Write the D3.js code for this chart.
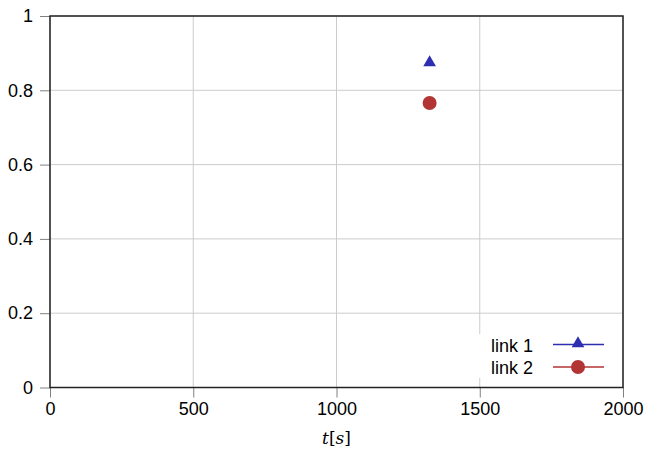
<!DOCTYPE html>
<html>
<head>
<meta charset="utf-8">
<script src="https://cdn.jsdelivr.net/npm/d3@7"></script>
<style>
  body { margin: 0; background: #fff; }
  svg { display: block; }
  text { font-family: "Liberation Sans", Arial, sans-serif; }
</style>
</head>
<body>
<svg id="chart" width="647" height="451"></svg>
<script>
// Series data: time in seconds, value in [0, 1]
const seriesNames = ["link 1", "link 2"];
const link1 = [{ t: 1325, v: 0.877 }];
const link2 = [{ t: 1325, v: 0.766 }];
const xTicks = [0, 500, 1000, 1500, 2000];
const yTicks = [0, 0.2, 0.4, 0.6, 0.8, 1];

const svg = d3.select("#chart");
const m = { left: 50, right: 24, top: 16, bottom: 63.5 };
const W = 647, H = 451;
const x = d3.scaleLinear().domain([0, 2000]).range([m.left, W - m.right]);
const y = d3.scaleLinear().domain([0, 1]).range([H - m.bottom, m.top]);

// grid
const g = svg.append("g");
g.selectAll(".gx").data(xTicks).join("line")
  .attr("x1", d => x(d)).attr("x2", d => x(d))
  .attr("y1", y(0)).attr("y2", y(1))
  .attr("stroke", "#cccccc").attr("stroke-width", 1);
g.selectAll(".gy").data(yTicks).join("line")
  .attr("y1", d => y(d)).attr("y2", d => y(d))
  .attr("x1", x(0)).attr("x2", x(2000))
  .attr("stroke", "#cccccc").attr("stroke-width", 1);

// axes
const xAxis = svg.append("g").attr("transform", `translate(0,${y(0)})`)
  .call(d3.axisBottom(x).tickValues(xTicks).tickSize(10).tickPadding(5).tickFormat(d3.format("d")));
const yAxis = svg.append("g").attr("transform", `translate(${x(0)},0)`)
  .call(d3.axisLeft(y).tickValues(yTicks).tickSize(10).tickPadding(7).tickFormat(d => d === 0 || d === 1 ? d : d3.format(".1f")(d)));
[xAxis, yAxis].forEach(a => {
  a.select(".domain").remove();
  a.selectAll(".tick line").attr("stroke", "#808080");
  a.selectAll(".tick text").attr("fill", "#000").style("font-size", "18px")
    .style("font-family", "'Liberation Sans', Arial, sans-serif");
});

// frame
svg.append("rect")
  .attr("x", x(0)).attr("y", y(1))
  .attr("width", x(2000) - x(0)).attr("height", y(0) - y(1))
  .attr("fill", "none").attr("stroke", "#222").attr("stroke-width", 1.5);

// axis title
svg.append("text")
  .attr("x", x(1000)).attr("y", 444)
  .attr("text-anchor", "middle")
  .style("font-family", "'DejaVu Serif', 'Liberation Serif', serif")
  .style("font-size", "17px")
  .html('<tspan font-style="italic">t</tspan>[<tspan font-style="italic">s</tspan>]');

const tri = d3.symbol().type(d3.symbolTriangle).size(70);
// markers
svg.append("g").selectAll("path").data(link1).join("path")
  .attr("d", tri)
  .attr("transform", d => `translate(${x(d.t)},${y(d.v) + 1})`)
  .attr("fill", "#2e2eb0");
svg.append("g").selectAll("circle").data(link2).join("circle")
  .attr("cx", d => x(d.t)).attr("cy", d => y(d.v)).attr("r", 7)
  .attr("fill", "#b23434");

// legend
const leg = svg.append("g");
leg.append("rect").attr("x", 474).attr("y", 334).attr("width", 146).attr("height", 44).attr("fill", "#fff");
const colors = ["#2e2eb0", "#b23434"];
seriesNames.forEach((name, i) => {
  const yy = 344.5 + i * 22.5;
  leg.append("text").attr("x", 491).attr("y", yy + 7).style("font-size", "18px").attr("fill", "#000").text(name);
  leg.append("line").attr("x1", 553).attr("x2", 604).attr("y1", yy).attr("y2", yy)
    .attr("stroke", colors[i]).attr("stroke-width", 1.3);
  if (i === 0) leg.append("path").attr("d", tri).attr("transform", `translate(578,${yy - 1})`).attr("fill", colors[i]);
  else leg.append("circle").attr("cx", 578).attr("cy", yy).attr("r", 7).attr("fill", colors[i]);
});
</script>
</body>
</html>
